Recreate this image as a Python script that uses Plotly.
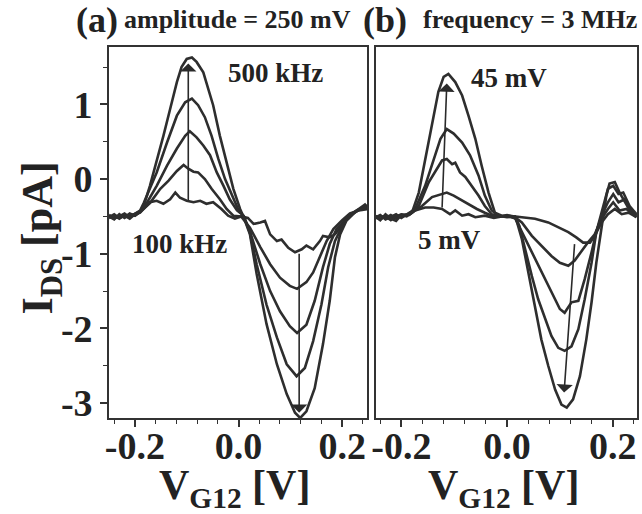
import plotly.graph_objects as go

# ---------------- Panel (a): amplitude = 250 mV, frequency varied ----------------
a_x_500k = [-0.25, -0.24, -0.23, -0.22, -0.21, -0.20, -0.19, -0.183, -0.171, -0.158, -0.145, -0.132, -0.119, -0.110,
            -0.100, -0.090, -0.081, -0.068, -0.062, -0.049, -0.036, -0.023, -0.010, 0.003, 0.010, 0.022, 0.035, 0.054,
            0.074, 0.093, 0.109, 0.119, 0.131, 0.147, 0.163, 0.176, 0.186, 0.196, 0.208, 0.228, 0.246]
a_y_500k = [-0.50, -0.54, -0.47, -0.52, -0.47, -0.49, -0.44, -0.36, -0.09, 0.23, 0.58, 0.94, 1.30, 1.50,
            1.61, 1.63, 1.57, 1.43, 1.30, 0.99, 0.58, 0.23, -0.13, -0.40, -0.51, -0.74, -1.27, -1.94,
            -2.48, -2.88, -3.13, -3.20, -3.11, -2.80, -2.21, -1.63, -1.05, -0.74, -0.56, -0.42, -0.33]

a_x_400k = [-0.25, -0.24, -0.23, -0.22, -0.21, -0.20, -0.19, -0.183, -0.158, -0.138, -0.119, -0.103, -0.090, -0.078,
            -0.065, -0.052, -0.039, -0.026, -0.013, -0.001, 0.010, 0.022, 0.035, 0.054, 0.074, 0.093, 0.112, 0.128,
            0.144, 0.160, 0.173, 0.186, 0.202, 0.215, 0.230, 0.248]
a_y_400k = [-0.48, -0.52, -0.50, -0.46, -0.51, -0.46, -0.42, -0.32, 0.09, 0.49, 0.85, 1.03, 1.08, 0.99,
            0.83, 0.58, 0.27, 0.00, -0.22, -0.40, -0.50, -0.72, -1.14, -1.68, -2.12, -2.48, -2.64, -2.53,
            -2.17, -1.68, -1.18, -0.83, -0.60, -0.48, -0.42, -0.36]

a_x_300k = [-0.25, -0.24, -0.23, -0.22, -0.21, -0.20, -0.19, -0.177, -0.158, -0.138, -0.119, -0.103, -0.094, -0.081,
            -0.068, -0.055, -0.042, -0.029, -0.017, -0.003, 0.010, 0.022, 0.042, 0.061, 0.080, 0.099, 0.113, 0.131,
            0.147, 0.163, 0.176, 0.189, 0.205, 0.220, 0.235, 0.250]
a_y_300k = [-0.52, -0.49, -0.53, -0.48, -0.50, -0.47, -0.43, -0.32, -0.09, 0.18, 0.41, 0.58, 0.64, 0.56,
            0.45, 0.32, 0.09, -0.09, -0.27, -0.42, -0.49, -0.70, -1.14, -1.50, -1.77, -1.97, -2.06, -1.95,
            -1.63, -1.18, -0.87, -0.67, -0.55, -0.47, -0.40, -0.38]

a_x_200k = [-0.25, -0.24, -0.23, -0.22, -0.21, -0.20, -0.19, -0.171, -0.151, -0.135, -0.119, -0.106, -0.097, -0.087,
            -0.078, -0.065, -0.052, -0.036, -0.023, -0.010, 0.005, 0.022, 0.042, 0.061, 0.080, 0.099, 0.113, 0.131,
            0.144, 0.157, 0.170, 0.183, 0.200, 0.215, 0.232, 0.250]
a_y_200k = [-0.49, -0.53, -0.48, -0.51, -0.46, -0.49, -0.44, -0.32, -0.13, -0.02, 0.11, 0.19, 0.14, 0.10,
            0.09, 0.00, -0.13, -0.27, -0.40, -0.49, -0.50, -0.65, -0.91, -1.14, -1.32, -1.43, -1.47, -1.38,
            -1.25, -1.05, -0.83, -0.67, -0.55, -0.46, -0.42, -0.40]

a_x_100k = [-0.25, -0.24, -0.23, -0.22, -0.21, -0.20, -0.19, -0.171, -0.158, -0.145, -0.132, -0.122, -0.113, -0.100,
            -0.087, -0.074, -0.062, -0.049, -0.033, -0.020, -0.007, 0.005, 0.018, 0.029, 0.042, 0.051, 0.061, 0.074,
            0.083, 0.096, 0.109, 0.122, 0.131, 0.144, 0.157, 0.163, 0.176, 0.186, 0.202, 0.215, 0.228, 0.240, 0.250]
a_y_100k = [-0.51, -0.47, -0.52, -0.49, -0.53, -0.47, -0.45, -0.31, -0.29, -0.33, -0.27, -0.18, -0.25, -0.29,
            -0.31, -0.29, -0.33, -0.31, -0.40, -0.49, -0.53, -0.50, -0.52, -0.60, -0.58, -0.56, -0.74, -0.83,
            -0.81, -0.92, -0.98, -0.94, -0.89, -0.94, -0.83, -0.76, -0.78, -0.74, -0.60, -0.48, -0.42, -0.38, -0.35]

# ---------------- Panel (b): frequency = 3 MHz, amplitude varied ----------------
b_x_45 = [-0.25, -0.24, -0.23, -0.22, -0.21, -0.20, -0.19, -0.180, -0.167, -0.155, -0.142, -0.130, -0.120, -0.111,
          -0.098, -0.085, -0.073, -0.060, -0.048, -0.035, -0.023, -0.010, 0.005, 0.017, 0.028, 0.040, 0.053, 0.065,
          0.078, 0.091, 0.103, 0.113, 0.125, 0.138, 0.150, 0.160, 0.169, 0.179, 0.188, 0.194, 0.204, 0.213, 0.223,
          0.235, 0.245]
b_y_45 = [-0.50, -0.55, -0.47, -0.53, -0.56, -0.48, -0.50, -0.45, -0.18, 0.27, 0.72, 1.17, 1.37, 1.41,
          1.30, 1.12, 0.85, 0.54, 0.18, -0.18, -0.45, -0.49, -0.50, -0.53, -0.80, -1.25, -1.74, -2.15,
          -2.50, -2.82, -3.02, -3.06, -2.95, -2.64, -2.15, -1.65, -1.12, -0.62, -0.22, -0.06, -0.04, -0.18, -0.31,
          -0.45, -0.49]

b_x_35 = [-0.25, -0.24, -0.23, -0.22, -0.21, -0.20, -0.19, -0.174, -0.155, -0.139, -0.126, -0.114, -0.101, -0.085,
          -0.070, -0.054, -0.042, -0.029, -0.016, 0.000, 0.015, 0.023, 0.034, 0.047, 0.059, 0.072, 0.084, 0.097,
          0.109, 0.122, 0.135, 0.147, 0.160, 0.169, 0.179, 0.191, 0.201, 0.211, 0.220, 0.232, 0.245]
b_y_35 = [-0.52, -0.48, -0.54, -0.50, -0.47, -0.52, -0.47, -0.40, -0.09, 0.27, 0.54, 0.67, 0.61, 0.49,
          0.32, 0.05, -0.22, -0.42, -0.49, -0.51, -0.50, -0.62, -0.94, -1.30, -1.61, -1.88, -2.10, -2.26,
          -2.30, -2.24, -2.01, -1.61, -1.12, -0.71, -0.45, -0.13, -0.09, -0.20, -0.18, -0.36, -0.47]

b_x_25 = [-0.25, -0.24, -0.23, -0.22, -0.21, -0.20, -0.185, -0.167, -0.148, -0.133, -0.123, -0.114, -0.104, -0.098,
          -0.089, -0.079, -0.067, -0.054, -0.042, -0.029, -0.015, 0.000, 0.015, 0.028, 0.047, 0.065, 0.084, 0.100,
          0.109, 0.122, 0.135, 0.147, 0.160, 0.169, 0.179, 0.191, 0.201, 0.211, 0.223, 0.235, 0.245]
b_y_25 = [-0.49, -0.53, -0.50, -0.55, -0.49, -0.51, -0.46, -0.36, -0.04, 0.14, 0.25, 0.27, 0.20, 0.22,
          0.09, 0.03, -0.09, -0.22, -0.36, -0.47, -0.50, -0.49, -0.52, -0.71, -0.98, -1.25, -1.52, -1.74,
          -1.79, -1.65, -1.63, -1.34, -0.98, -0.71, -0.49, -0.31, -0.20, -0.31, -0.27, -0.42, -0.49]

b_x_15 = [-0.25, -0.24, -0.23, -0.22, -0.21, -0.20, -0.185, -0.161, -0.142, -0.126, -0.114, -0.101, -0.089, -0.073,
          -0.057, -0.042, -0.029, -0.015, 0.000, 0.015, 0.028, 0.047, 0.065, 0.084, 0.100, 0.116, 0.128, 0.141,
          0.153, 0.166, 0.179, 0.191, 0.201, 0.213, 0.226, 0.238, 0.245]
b_y_15 = [-0.53, -0.49, -0.52, -0.48, -0.53, -0.49, -0.47, -0.36, -0.24, -0.20, -0.18, -0.22, -0.27, -0.33,
          -0.40, -0.45, -0.49, -0.50, -0.48, -0.51, -0.58, -0.76, -0.89, -1.03, -1.12, -1.16, -1.09, -0.96,
          -0.85, -0.74, -0.53, -0.40, -0.31, -0.42, -0.40, -0.47, -0.51]

b_x_5 = [-0.25, -0.24, -0.23, -0.22, -0.21, -0.20, -0.185, -0.174, -0.155, -0.139, -0.123, -0.108, -0.098, -0.085,
         -0.073, -0.060, -0.042, -0.025, -0.010, 0.005, 0.028, 0.053, 0.078, 0.100, 0.116, 0.131, 0.144, 0.157,
         0.166, 0.179, 0.191, 0.204, 0.217, 0.230, 0.245]
b_y_5 = [-0.50, -0.54, -0.49, -0.52, -0.50, -0.47, -0.48, -0.42, -0.38, -0.38, -0.40, -0.47, -0.42, -0.49,
         -0.47, -0.51, -0.49, -0.52, -0.50, -0.49, -0.51, -0.53, -0.58, -0.65, -0.71, -0.78, -0.85, -0.85,
         -0.76, -0.58, -0.47, -0.40, -0.47, -0.45, -0.51]

# ticks
x_tickvals = [-0.2, 0.0, 0.2]
x_ticktext = ["-0.2", "0.0", "0.2"]
y_tickvals = [-3, -2, -1, 0, 1]
y_ticktext = ["-3", "-2", "-1", "0", "1"]

# arrows (tail -> head), data coordinates
arrow_a_up = dict(tail=(-0.097, -0.31), head=(-0.097, 1.55))
arrow_a_down = dict(tail=(0.117, -0.98), head=(0.117, -3.13))
arrow_b_up = dict(tail=(-0.123, -0.40), head=(-0.114, 1.28))
arrow_b_down = dict(tail=(0.128, -0.85), head=(0.108, -2.86))

LINE = "#2e2e2e"
SERIF = "Liberation Serif"

fig = go.Figure()
for xs, ys in [(a_x_100k, a_y_100k), (a_x_200k, a_y_200k), (a_x_300k, a_y_300k),
               (a_x_400k, a_y_400k), (a_x_500k, a_y_500k)]:
    fig.add_trace(go.Scatter(x=xs, y=ys, mode="lines", xaxis="x", yaxis="y",
                             line=dict(color=LINE, width=2.6), showlegend=False))
for xs, ys in [(b_x_5, b_y_5), (b_x_15, b_y_15), (b_x_25, b_y_25),
               (b_x_35, b_y_35), (b_x_45, b_y_45)]:
    fig.add_trace(go.Scatter(x=xs, y=ys, mode="lines", xaxis="x2", yaxis="y2",
                             line=dict(color=LINE, width=2.6), showlegend=False))

tickfont = dict(family=SERIF, size=38, color="#222", weight="bold")
common_x = dict(tickmode="array", tickvals=x_tickvals, ticktext=x_ticktext, tickfont=tickfont,
                ticks="outside", ticklen=7, tickwidth=1.5, tickcolor="#333", ticklabelstandoff=-13,
                minor=dict(dtick=0.04, tick0=0, ticks="outside", ticklen=4, tickwidth=1.2, tickcolor="#333"),
                showline=True, linecolor="#333", linewidth=1.6, mirror=True,
                showgrid=False, zeroline=False)

fig.update_layout(
    width=642, height=514,
    margin=dict(l=109, r=3, t=47, b=96),
    paper_bgcolor="white", plot_bgcolor="white",
    xaxis=dict(domain=[0, 0.4887], range=[-0.25, 0.248], anchor="y", **common_x),
    xaxis2=dict(domain=[0.5057, 1], range=[-0.248, 0.246], anchor="y2", **common_x),
    yaxis=dict(domain=[0, 1], range=[-3.2, 1.77], anchor="x",
               tickmode="array", tickvals=y_tickvals, ticktext=y_ticktext, tickfont=tickfont,
               ticks="outside", ticklen=7, tickwidth=1.5, tickcolor="#333",
               minor=dict(dtick=0.5, tick0=0, ticks="outside", ticklen=4, tickwidth=1.2, tickcolor="#333"),
               showline=True, linecolor="#333", linewidth=1.6, mirror=True,
               showgrid=False, zeroline=False),
    yaxis2=dict(domain=[0, 1], range=[-3.2, 1.77], anchor="x2", showticklabels=False, ticks="",
                showline=True, linecolor="#333", linewidth=1.6, mirror=True,
                showgrid=False, zeroline=False),
)

annotations = []
for arr, xr, yr in [(arrow_a_up, "x", "y"), (arrow_a_down, "x", "y"),
                    (arrow_b_up, "x2", "y2"), (arrow_b_down, "x2", "y2")]:
    annotations.append(dict(x=arr["head"][0], y=arr["head"][1], ax=arr["tail"][0], ay=arr["tail"][1],
                            xref=xr, yref=yr, axref=xr, ayref=yr, text="", showarrow=True,
                            arrowhead=1, arrowsize=1.7, arrowwidth=1.6, arrowcolor="#2a2a2a"))

lab_font = dict(family=SERIF, size=27, color="#222", weight="bold")
hdr_big = dict(family=SERIF, size=36, color="#222", weight="bold")
hdr_small = dict(family=SERIF, size=26, color="#222", weight="bold")
title_font = dict(family=SERIF, size=44, color="#222", weight="bold")
xtitle_font = dict(family=SERIF, size=42, color="#222", weight="bold")
C = dict(xanchor="center", yanchor="middle", showarrow=False)
annotations += [
    dict(x=0.071, y=1.42, xref="x", yref="y", text="500 kHz", font=lab_font, **C),
    dict(x=-0.113, y=-0.87, xref="x", yref="y", text="100 kHz", font=lab_font, **C),
    dict(x=0.004, y=1.35, xref="x2", yref="y2", text="45 mV", font=lab_font, **C),
    dict(x=-0.108, y=-0.81, xref="x2", yref="y2", text="5 mV", font=lab_font, **C),
    # panel headers
    dict(x=-0.0226, y=1.073, xref="paper", yref="paper", text="(a)", font=hdr_big, **C),
    dict(x=0.0255, y=1.073, xref="paper", yref="paper", xanchor="left", yanchor="middle",
         text="amplitude = 250 mV", showarrow=False, font=hdr_small),
    dict(x=0.5226, y=1.073, xref="paper", yref="paper", text="(b)", font=hdr_big, **C),
    dict(x=1.004, y=1.073, xref="paper", yref="paper", xanchor="right", yanchor="middle",
         text="frequency = 3 MHz", showarrow=False, font=hdr_small),
    # axis titles
    dict(x=-0.130, y=0.485, xref="paper", yref="paper", text="I<sub>DS</sub> [pA]", textangle=-90,
         font=title_font, **C),
    dict(x=0.238, y=-0.188, xref="paper", yref="paper", text="V<sub>G12</sub> [V]", font=xtitle_font, **C),
    dict(x=0.747, y=-0.188, xref="paper", yref="paper", text="V<sub>G12</sub> [V]", font=xtitle_font, **C),
]
fig.update_layout(annotations=annotations)

fig.write_html("out.html", config={"displayModeBar": False},
               post_script="document.body.style.margin='0px';")
